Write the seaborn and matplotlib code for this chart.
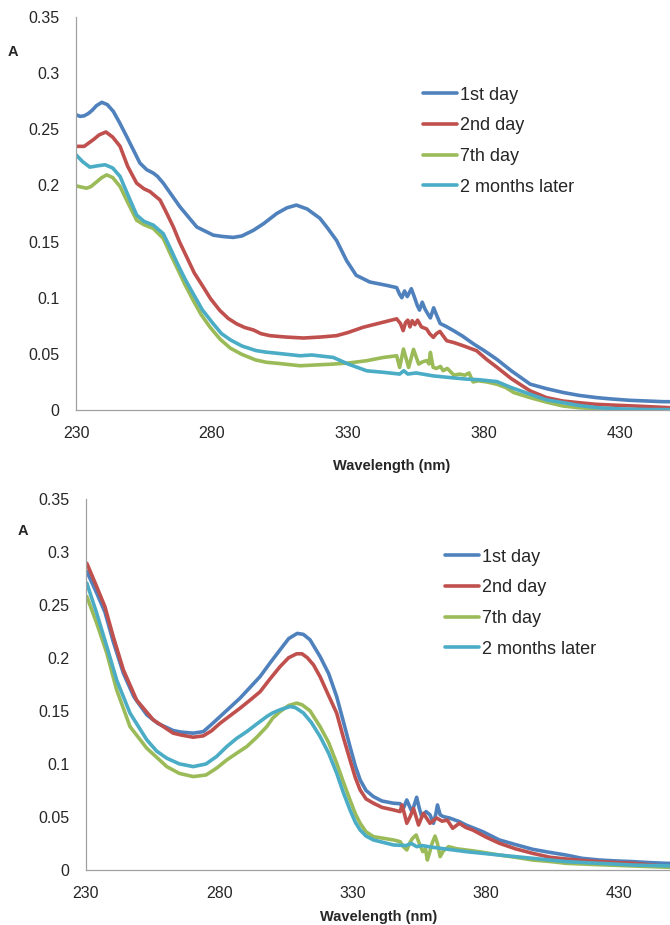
import matplotlib
matplotlib.use("Agg")
import pandas as pd
import matplotlib.pyplot as plt
import seaborn as sns
from matplotlib.ticker import FuncFormatter

# series names and colours (Excel-like palette)
series_names = ["1st day", "2nd day", "7th day", "2 months later"]
series_colors = ["#4F81BD", "#C0504D", "#9BBB59", "#4BACC6"]

x_ticks = [230, 280, 330, 380, 430]
y_ticks = [0, 0.05, 0.1, 0.15, 0.2, 0.25, 0.3, 0.35]

# ---- top panel ----
top_day1_x = [230, 231.5, 233, 234.5, 236, 237.5, 239.5, 241.5, 243.7, 246, 248.6, 253.5, 256, 258.4,
              260, 262.1, 268.2, 274.4, 280.5, 284, 287.8, 291, 295.2, 299, 303.8, 307.5, 311, 315,
              319.7, 322.5, 325.8, 329.5, 333, 338, 344.2, 347.9, 349, 349.8, 350.8, 351.8, 353.3,
              354.5, 355.5, 356.3, 357.3, 358.3, 359.5, 360.3, 361.5, 362.5, 363.9, 366, 368.8,
              372, 376.2, 380, 384.8, 390, 397, 403, 409.3, 415, 421.5, 427, 433.8, 440, 446, 449]
top_day1_y = [0.263, 0.2615, 0.262, 0.264, 0.267, 0.271, 0.274, 0.272, 0.266, 0.256, 0.2437, 0.2199,
              0.214, 0.211, 0.208, 0.202, 0.181, 0.163, 0.1557, 0.1545, 0.1537, 0.155, 0.160, 0.166,
              0.175, 0.180, 0.1825, 0.179, 0.1707, 0.162, 0.151, 0.133, 0.120, 0.114, 0.111, 0.109,
              0.103, 0.100, 0.106, 0.101, 0.108, 0.100, 0.093, 0.089, 0.096, 0.090, 0.085, 0.082,
              0.091, 0.085, 0.077, 0.0745, 0.0707, 0.066, 0.0588, 0.053, 0.045, 0.035, 0.023, 0.019,
              0.0155, 0.013, 0.011, 0.0098, 0.0086, 0.008, 0.0074, 0.0074]

top_day2_x = [230, 233, 236.5, 238.5, 241, 243.5, 246.2, 249, 252.3, 255, 257.2, 260.9, 263, 265.8,
              268, 270.7, 273.5, 276.8, 279.5, 282.9, 286, 289.1, 292, 295.2, 298, 301.3, 307, 313.6,
              320, 325.8, 330, 335.6, 341, 347.9, 349.3, 350.3, 351.2, 352, 352.8, 353.6, 354.6,
              355.6, 357, 358.9, 360, 361.4, 362.5, 363.8, 365, 366.3, 369, 372.4, 377.3, 381,
              384.8, 390, 397, 403, 409, 415, 421, 428, 435, 442, 449]
top_day2_y = [0.2348, 0.2348, 0.241, 0.245, 0.2476, 0.243, 0.2348, 0.217, 0.202, 0.197, 0.1945,
              0.187, 0.177, 0.163, 0.150, 0.1363, 0.122, 0.1095, 0.099, 0.0886, 0.0815, 0.0767,
              0.0735, 0.0713, 0.068, 0.0662, 0.065, 0.0641, 0.065, 0.0662, 0.069, 0.0737, 0.077,
              0.0812, 0.077, 0.0707, 0.078, 0.080, 0.074, 0.0795, 0.076, 0.080, 0.074, 0.0722,
              0.068, 0.0647, 0.068, 0.070, 0.066, 0.0617, 0.060, 0.0572, 0.0528, 0.045, 0.038,
              0.028, 0.017, 0.011, 0.008, 0.0065, 0.0051, 0.0043, 0.0036, 0.0028, 0.002]

top_day7_x = [230, 233.9, 235.5, 237.5, 239.5, 241.3, 243.5, 246.2, 249, 252.3, 255, 258.4, 262.1,
              264.5, 267, 270, 273.1, 276, 279.3, 283, 286.8, 291, 296, 300, 304, 312.4, 324.6,
              330.7, 336.9, 343, 347.9, 349, 350.4, 352.3, 354.1, 356, 357.5, 359, 359.8, 360.3,
              361.3, 362.5, 364, 365, 366.5, 369, 371, 373, 374.5, 376, 377.9, 381, 384.8, 388,
              391, 397, 403, 409, 415, 422, 430, 449]
top_day7_y = [0.1996, 0.1975, 0.199, 0.203, 0.207, 0.2094, 0.207, 0.199, 0.185, 0.169, 0.165,
              0.1617, 0.1528, 0.140, 0.1274, 0.112, 0.0976, 0.085, 0.0737, 0.063, 0.055, 0.0495,
              0.0446, 0.0425, 0.0416, 0.0394, 0.0409, 0.042, 0.0439, 0.0468, 0.0483, 0.0379,
              0.0543, 0.0379, 0.054, 0.0409, 0.043, 0.044, 0.041, 0.0513, 0.038, 0.037, 0.0388,
              0.035, 0.037, 0.031, 0.032, 0.031, 0.033, 0.025, 0.026, 0.025, 0.0229, 0.020,
              0.0155, 0.011, 0.007, 0.0036, 0.002, 0.001, 0.0, 0.0]

top_month2_x = [230, 232.5, 235.1, 238, 240.7, 243.5, 246.2, 249, 252.3, 255, 258.4, 262.1, 264.5,
                267, 270, 273.1, 276.5, 280.5, 283.5, 286.8, 291, 296.2, 300, 304, 312.4, 316.7,
                324.6, 330, 336.9, 343.3, 349, 350.5, 352, 355, 361.3, 367, 373.6, 378, 384.8, 390,
                397, 403, 409, 415, 422, 430, 440, 449]
top_month2_y = [0.2273, 0.221, 0.2163, 0.2175, 0.2184, 0.2155, 0.208, 0.192, 0.1736, 0.168, 0.1647,
                0.157, 0.145, 0.1318, 0.117, 0.1035, 0.089, 0.0767, 0.068, 0.0624, 0.057, 0.0529,
                0.0515, 0.0505, 0.0483, 0.049, 0.0468, 0.041, 0.0349, 0.0335, 0.032, 0.035, 0.032,
                0.033, 0.0304, 0.029, 0.0275, 0.027, 0.0253, 0.020, 0.014, 0.009, 0.0066, 0.004,
                0.002, 0.001, 0.0004, 0.0003]

# ---- bottom panel ----
bot_day1_x = [230.3, 234, 237.1, 240.2, 244, 248, 252.8, 257, 262.7, 265.5, 270.2, 274, 277, 280.3,
              287.8, 291.5, 295.3, 299, 302.8, 306, 309.2, 311.5, 314, 317.8, 321, 324, 326.5, 329,
              331, 332.8, 335, 337.8, 341, 345.3, 347.8, 349, 350.3, 351.3, 352.2, 353.2, 354, 355,
              355.9, 357.5, 359, 360.3, 361.2, 361.8, 362.8, 364, 366.3, 370, 372.5, 378.8, 385,
              391, 397.5, 403, 410, 416, 422.5, 429, 435, 441, 447.4, 449]
bot_day1_y = [0.2813, 0.261, 0.243, 0.2153, 0.1855, 0.163, 0.1462, 0.138, 0.1314, 0.130, 0.1289,
              0.1304, 0.137, 0.1446, 0.162, 0.172, 0.1823, 0.195, 0.2075, 0.218, 0.2229, 0.222,
              0.2169, 0.201, 0.185, 0.1634, 0.140, 0.1163, 0.098, 0.0849, 0.075, 0.0691, 0.065,
              0.0629, 0.0625, 0.058, 0.066, 0.06, 0.055, 0.062, 0.0685, 0.058, 0.0503, 0.055, 0.052,
              0.044, 0.053, 0.0613, 0.052, 0.0503, 0.049, 0.0456, 0.0424, 0.0361, 0.0283, 0.024,
              0.0195, 0.017, 0.0141, 0.011, 0.0094, 0.0085, 0.0079, 0.007, 0.0063, 0.0063]

bot_day2_x = [230.3, 234, 237.1, 240.2, 244, 249, 255.2, 262.7, 266, 270.2, 274, 277, 280.3, 287.8,
              291.5, 295.3, 299, 302.8, 306, 309, 311, 313, 315.3, 317.8, 320.5, 324, 326.5, 329,
              331, 332.8, 335, 337.8, 341, 345.3, 347.8, 348.5, 349.5, 350.3, 351.5, 352.8, 353.8,
              354.7, 355.6, 356.5, 359, 361.5, 363.5, 365.5, 367.5, 370, 372.5, 375, 380, 385, 391,
              397.5, 404, 410, 416, 422.5, 429, 435, 441, 449]
bot_day2_y = [0.289, 0.267, 0.248, 0.220, 0.1886, 0.160, 0.1415, 0.1289, 0.127, 0.1251, 0.1264,
              0.131, 0.1383, 0.1525, 0.160, 0.168, 0.180, 0.1917, 0.200, 0.2037, 0.2037, 0.200,
              0.1933, 0.182, 0.167, 0.1478, 0.125, 0.1037, 0.087, 0.0754, 0.067, 0.0629, 0.059,
              0.0566, 0.055, 0.0613, 0.052, 0.044, 0.050, 0.058, 0.050, 0.0424, 0.048, 0.0534,
              0.044, 0.049, 0.046, 0.047, 0.0393, 0.044, 0.040, 0.0377, 0.031, 0.0252, 0.020,
              0.0157, 0.012, 0.0104, 0.009, 0.0079, 0.007, 0.0063, 0.005, 0.0031]

bot_day7_x = [230.3, 234, 237.8, 241.5, 246.5, 252.8, 260.3, 265, 270.2, 275, 279, 282.8, 286.5,
              290.3, 294, 297.8, 300, 302.8, 306, 309, 311, 314, 317.8, 321, 324, 326.5, 329, 331,
              332.8, 335, 337.8, 345.3, 347.8, 349, 350.3, 351.5, 352.5, 353.8, 355, 356.3, 357.3,
              358, 358.8, 359.8, 360.9, 361.8, 362.8, 364, 366, 369, 372.5, 378, 385, 391, 397.5,
              404, 410, 422, 435, 449]
bot_day7_y = [0.2577, 0.2326, 0.2043, 0.1697, 0.1351, 0.1147, 0.0974, 0.091, 0.088, 0.0895, 0.096,
              0.1037, 0.110, 0.1163, 0.125, 0.1351, 0.143, 0.1493, 0.155, 0.1572, 0.1557, 0.150,
              0.135, 0.120, 0.1006, 0.083, 0.066, 0.053, 0.044, 0.036, 0.0314, 0.0283, 0.0267,
              0.022, 0.0189, 0.026, 0.030, 0.033, 0.025, 0.0173, 0.020, 0.0094, 0.016, 0.0252,
              0.032, 0.025, 0.0126, 0.018, 0.022, 0.020, 0.0189, 0.017, 0.0141, 0.012, 0.0094,
              0.008, 0.0063, 0.005, 0.0038, 0.0025]

bot_month2_x = [230.3, 234, 237.8, 241.5, 246.5, 252.8, 256.5, 260.3, 265, 270.2, 275, 279, 282.8,
                286.5, 290.3, 294, 297.8, 300, 302.8, 306.5, 308.5, 311.5, 314.5, 317.8, 321, 324,
                326.5, 329, 331, 332.8, 335, 337.8, 345.3, 350, 352, 354, 356, 360, 372.5, 385,
                397.5, 410, 422.5, 435, 449]
bot_month2_y = [0.2703, 0.242, 0.2106, 0.179, 0.1478, 0.1226, 0.112, 0.1053, 0.100, 0.0974, 0.0999,
                0.107, 0.1163, 0.124, 0.1304, 0.1375, 0.1446, 0.148, 0.151, 0.154, 0.153, 0.148,
                0.139, 0.1257, 0.110, 0.0912, 0.073, 0.0566, 0.045, 0.0377, 0.032, 0.0283, 0.0236,
                0.023, 0.025, 0.022, 0.023, 0.0214, 0.0173, 0.0141, 0.011, 0.0079, 0.0063, 0.0047,
                0.0038]


def long_frame(xs, ys):
    parts = []
    for name, x, y in zip(series_names, xs, ys):
        parts.append(pd.DataFrame({"wl": x, "A": y, "series": name}))
    return pd.concat(parts, ignore_index=True)


def draw_panel(ax, df, xmax, legend_anchor):
    sns.lineplot(data=df, x="wl", y="A", hue="series", hue_order=series_names,
                 palette=series_colors, estimator=None, linewidth=2.6, legend=False, ax=ax,
                 solid_joinstyle="round", solid_capstyle="round")
    ax.set_xlim(230, xmax)
    ax.set_ylim(0, 0.35)
    ax.set_xticks(x_ticks)
    ax.set_yticks(y_ticks)
    ax.yaxis.set_major_formatter(FuncFormatter(lambda v, p: "%g" % round(v, 2)))
    ax.set_xlabel("")
    ax.set_ylabel("")
    for s in ["top", "right"]:
        ax.spines[s].set_visible(False)
    for s in ["left", "bottom"]:
        ax.spines[s].set_color("#a0a0a0")
        ax.spines[s].set_linewidth(0.9)
    ax.tick_params(axis="y", direction="out", length=5.5, width=0.8, color="#a0a0a0",
                   pad=6.5, labelsize=11.5)
    ax.tick_params(axis="x", direction="out", length=3.8, width=0.8, color="#a0a0a0",
                   pad=7.5, labelsize=11.5)
    ax.legend(ax.lines[:4], series_names, loc="upper left", bbox_to_anchor=legend_anchor,
              bbox_transform=ax.figure.transFigure, frameon=False, fontsize=13,
              borderpad=0, borderaxespad=0, handlelength=1.9, handletextpad=0.17,
              labelspacing=0.76)


sns.set_style("white")
plt.rcParams["font.family"] = ["Liberation Sans", "DejaVu Sans"]

fig = plt.figure(figsize=(6.7, 9.25), dpi=100)
ax_top = fig.add_axes([76 / 670, 1 - 410 / 925, 1 - 76 / 670, 393 / 925])
ax_bot = fig.add_axes([86 / 670, 1 - 870 / 925, 1 - 86 / 670, 371.5 / 925])

top_df = long_frame([top_day1_x, top_day2_x, top_day7_x, top_month2_x],
                    [top_day1_y, top_day2_y, top_day7_y, top_month2_y])
bot_df = long_frame([bot_day1_x, bot_day2_x, bot_day7_x, bot_month2_x],
                    [bot_day1_y, bot_day2_y, bot_day7_y, bot_month2_y])

draw_panel(ax_top, top_df, 448.4, (423 / 670, 1 - 86.5 / 925))
draw_panel(ax_bot, bot_df, 449, (445 / 670, 1 - 548.5 / 925))

# axis titles placed like the original figure
fig.text(392 / 670, 1 - 466 / 925, "Wavelength (nm)", ha="center", va="center",
         fontsize=10.5, fontweight="bold")
fig.text(379 / 670, 1 - 917 / 925, "Wavelength (nm)", ha="center", va="center",
         fontsize=10.5, fontweight="bold")
fig.text(13 / 670, 1 - 52 / 925, "A", ha="center", va="center", fontsize=10.5, fontweight="bold")
fig.text(23 / 670, 1 - 531 / 925, "A", ha="center", va="center", fontsize=10.5, fontweight="bold")

fig.savefig("out.png", dpi=100)
